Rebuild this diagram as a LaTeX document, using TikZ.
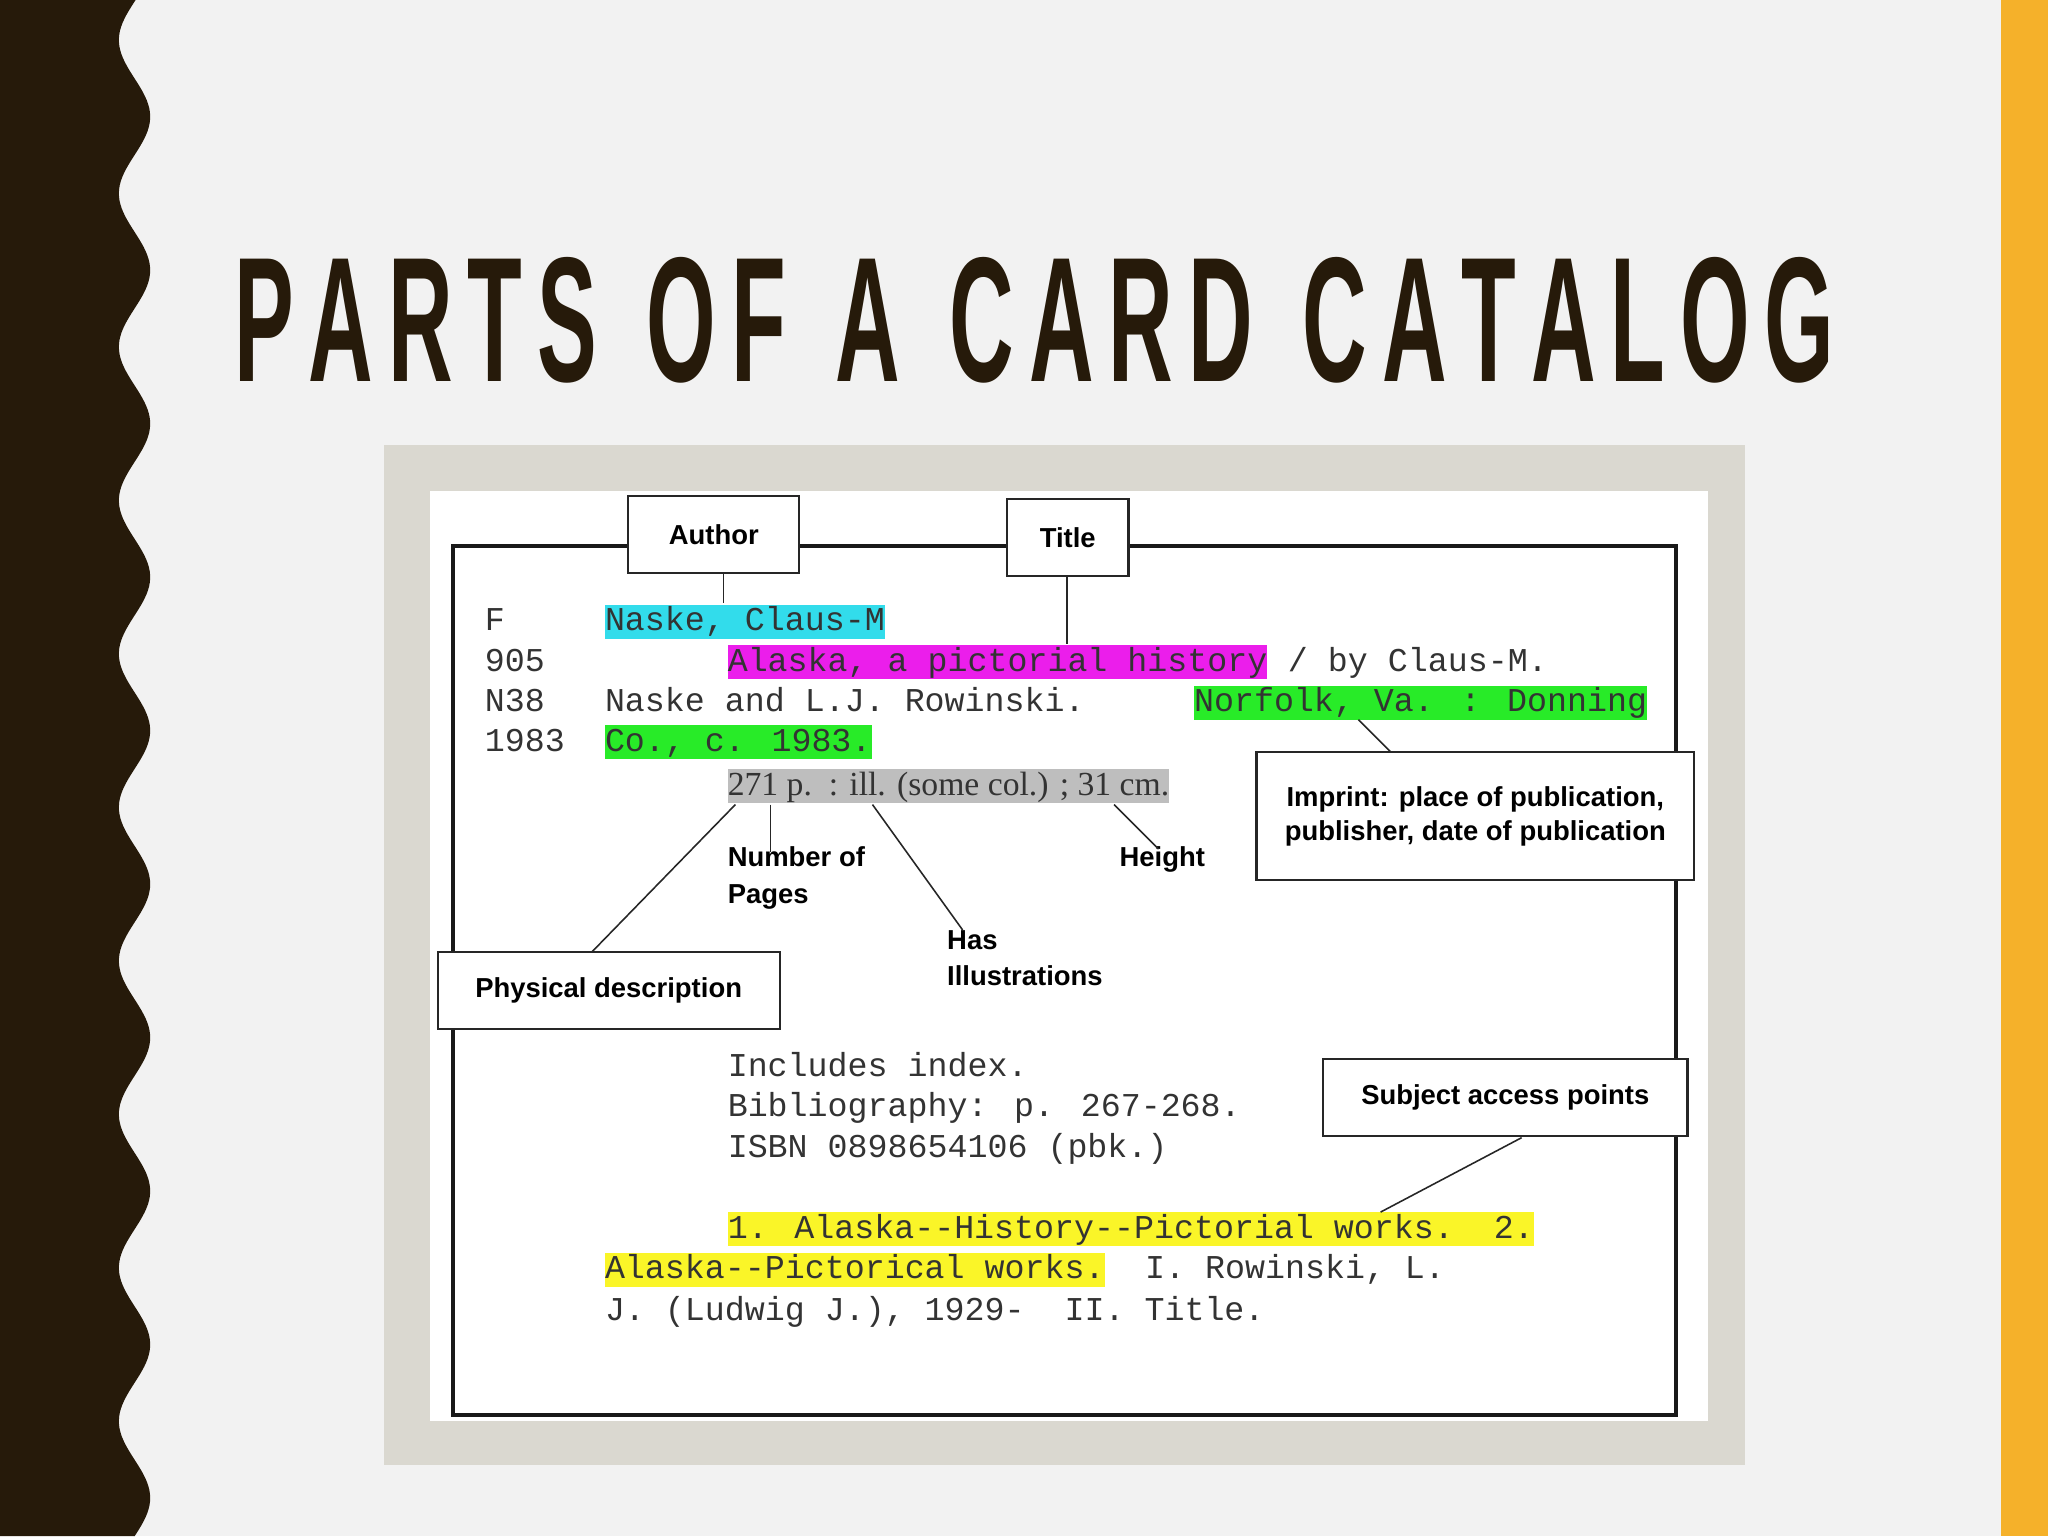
\documentclass[tikz,border=0pt]{standalone}
\usepackage{fontspec}
\setmainfont{Liberation Sans}
\newfontfamily\monof{Liberation Mono}
\newfontfamily\serf{Liberation Serif}
\begin{document}
\begin{tikzpicture}[x=1pt,y=-1pt,
  mono/.style={font=\monof\fontsize{25.5}{26}\selectfont,text=black!80,anchor=west,inner xsep=0pt,inner ysep=0pt,text height=20pt,text depth=6pt},
  lbl/.style={draw=black!85,line width=1.6pt,fill=white,font=\bfseries\fontsize{21}{26}\selectfont,inner sep=0pt,align=center},
  ltxt/.style={font=\bfseries\fontsize{21}{28}\selectfont,align=left,anchor=north west,inner sep=0pt},
  conn/.style={draw=black!85,line width=1.2pt}]
\useasboundingbox (0,0) rectangle (1568,1176);
\fill[black!5] (0,0) rectangle (1568,1176);
\fill[fill={rgb,255:red,245;green,177;blue,42}] (1532,0) rectangle (1568,1176);
\fill[fill={rgb,255:red,38;green,26;blue,10}] (0,0) -- plot[domain=0:1176,samples=200,smooth] ({103+12*sin(3.0638*(\x-60))},\x) -- (0,1176) -- cycle;
\node[text={rgb,255:red,38;green,26;blue,10},inner sep=0pt] (title) at (792,245) {\resizebox{1225pt}{95pt}{\bfseries P\,A\,R\,T\,S\ \ O\,F\ \ A\ \ C\,A\,R\,D\ \ C\,A\,T\,A\,L\,O\,G}};
\fill[fill={rgb,255:red,218;green,216;blue,208}] (294,341) rectangle (1336,1122);
\fill[white] (329,376) rectangle (1308,1088);
\draw[line width=3pt,black!90] (347,418) rectangle (1283,1083);
% card text
\node[mono] (f) at (371,476) {F};
\node[mono] (c905) at (371,507) {905};
\node[mono] (n38) at (371,538) {N38};
\node[mono] (y1983) at (371,568) {1983};
\node[mono,fill={rgb,255:red,50;green,220;blue,235}] (auth) at (463,476) {Naske, Claus-M};
\node[mono,fill={rgb,255:red,235;green,30;blue,235}] (ttl) at (557,507) {Alaska, a pictorial history};
\node[mono,anchor=west] (by) at (ttl.east) {\ / by Claus-M.};
\node[mono] (nr) at (463,538) {Naske and L.J. Rowinski.};
\node[mono,fill={rgb,255:red,40;green,235;blue,40}] (imp1) at (914,538) {Norfolk, Va. : Donning};
\node[mono,fill={rgb,255:red,40;green,235;blue,40}] (imp2) at (463,568) {Co., c. 1983.};
\node[anchor=west,inner xsep=0pt,inner ysep=0pt,text height=20pt,text depth=6pt,fill={rgb,255:red,190;green,190;blue,190},font=\serf\fontsize{23}{26}\selectfont,text=black!80] (phys) at (557,602) {\resizebox{338pt}{!}{271 p.\ \ : ill. (some col.) ; 31 cm.}};
\node[mono] (inc) at (557,817) {Includes index.};
\node[mono] (bib) at (557,848) {Bibliography: p. 267-268.};
\node[mono] (isbn) at (557,879) {ISBN 0898654106 (pbk.)};
\node[mono,fill={rgb,255:red,250;green,245;blue,40}] (s1) at (557,941) {1. Alaska--History--Pictorial works.\ \ 2.};
\node[mono,fill={rgb,255:red,250;green,245;blue,40}] (s2) at (463,972) {Alaska--Pictorical works.};
\node[mono,anchor=west] (s2b) at (s2.east) {\ \ I. Rowinski, L.};
\node[mono] (s3) at (463,1004) {J. (Ludwig J.), 1929-\ \ II. Title.};
% label boxes
\node[lbl,minimum width=131pt,minimum height=59pt] (authb) at (546.5,409.5) {Author};
\node[lbl,minimum width=93pt,minimum height=59pt] (titleb) at (817.5,411.5) {Title};
\node[lbl,minimum width=335pt,minimum height=98pt] (impb) at (1129.5,625) {Imprint: place of publication,\\publisher, date of publication};
\node[lbl,minimum width=262pt,minimum height=59pt] (physb) at (466,758.5) {Physical description};
\node[lbl,minimum width=279pt,minimum height=59pt] (subjb) at (1152.5,840.5) {Subject access points};
\node[ltxt] (nump) at (557,648) {Number of\\Pages};
\node[ltxt] (hasi) at (725,712) {Has\\Illustrations};
\node[ltxt] (hgt) at (857,648) {Height};
% connectors
\coordinate (a1) at (554,462); \draw[conn] (authb.south -| a1) -- (a1);
\coordinate (t1) at (817,493); \draw[conn] (titleb.south -| t1) -- (t1);
\coordinate (i0) at (1065,576); \coordinate (i1) at (1040,551); \draw[conn] (i0) -- (i1);
\coordinate (p0) at (453,729); \coordinate (p1) at (563,616); \draw[conn] (p0) -- (p1);
\coordinate (n0) at (590,616); \coordinate (n1) at (590,652); \draw[conn] (n0) -- (n1);
\coordinate (h0) at (668,616); \coordinate (h1) at (737,712); \draw[conn] (h0) -- (h1);
\coordinate (g0) at (853,616); \coordinate (g1) at (887,650); \draw[conn] (g0) -- (g1);
\coordinate (u0) at (1165,871); \coordinate (u1) at (1057,928); \draw[conn] (u0) -- (u1);
\end{tikzpicture}
\end{document}
